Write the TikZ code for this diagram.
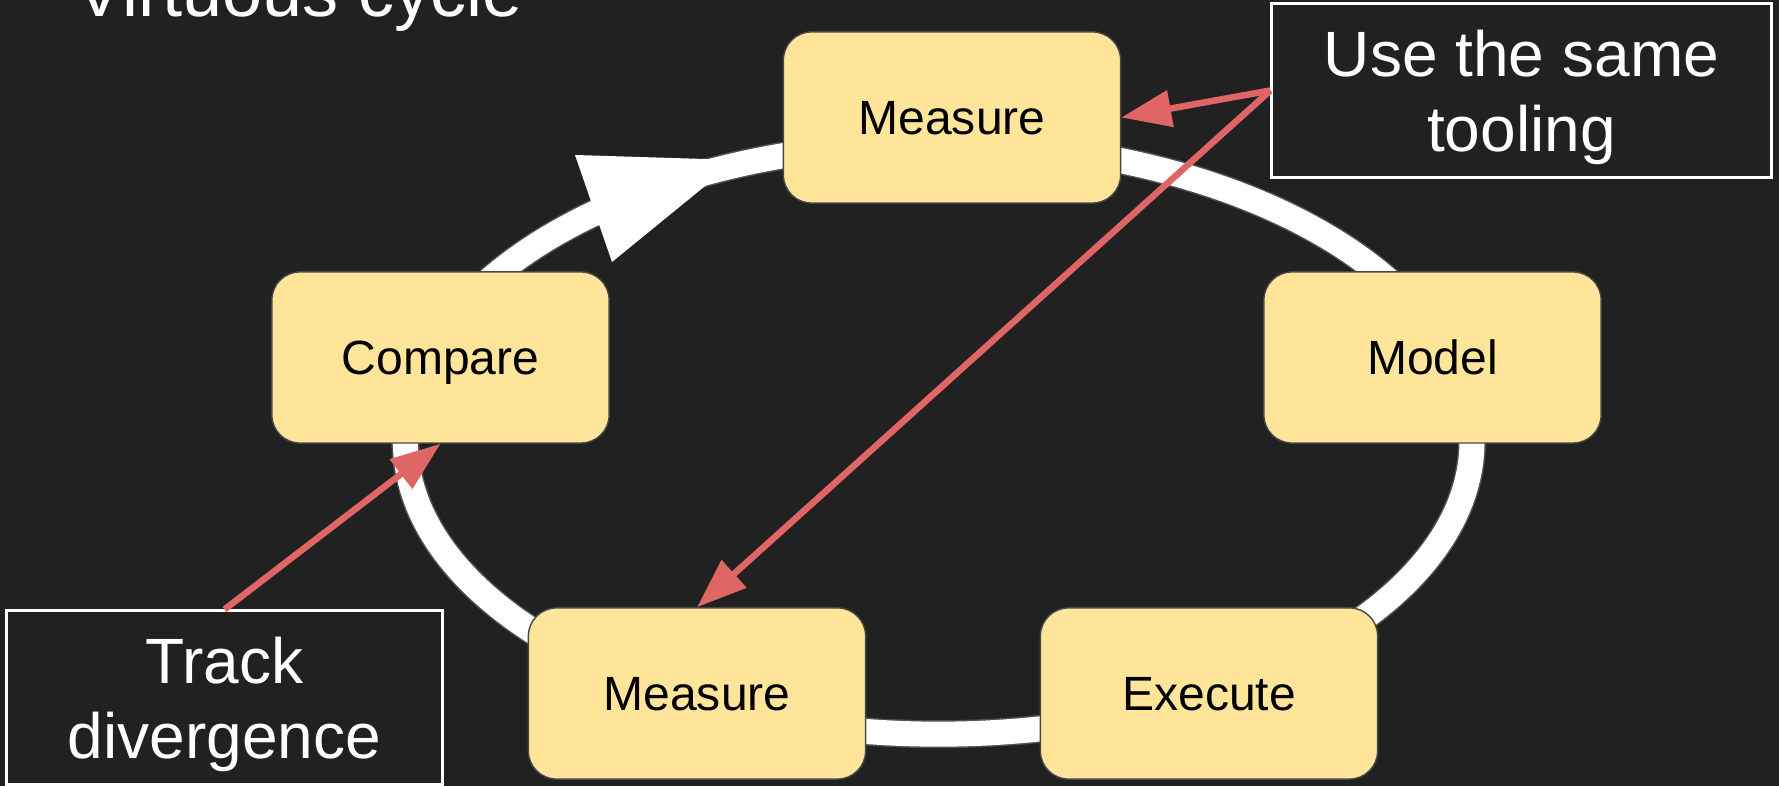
\documentclass[tikz,border=0pt]{standalone}
\usepackage{fontspec}
\setmainfont{Liberation Sans}
\usetikzlibrary{arrows.meta}
\definecolor{bg}{HTML}{212121}
\definecolor{boxfill}{HTML}{FFE599}
\definecolor{boxedge}{HTML}{474747}
\definecolor{redc}{HTML}{E06666}
\definecolor{ringedge}{HTML}{4F4F4F}
\begin{document}
\begin{tikzpicture}[x=0.01cm,y=-0.01cm,
  stage/.style={draw=boxedge,line width=0.4pt,fill=boxfill,rounded corners=0.28cm,
    minimum width=3.37cm,minimum height=1.71cm,inner sep=0pt,text=black,
    font=\fontsize{13.66pt}{16pt}\selectfont,text height=12.36pt,text depth=2.9pt},
  callout/.style={draw=white,line width=0.85pt,fill=bg,text=white,align=center,
    inner sep=0pt,minimum height=1.73cm,font=\fontsize{18.21pt}{21.34pt}\selectfont},
  pointer/.style={draw=redc,line width=1.85pt,-{Triangle[length=14.2pt,width=10.2pt]}},
  ringline/.style={draw=white,line width=0.25cm},
  ringshade/.style={draw=ringedge,line width=0.28cm},
]
\useasboundingbox (0,0) rectangle (1779,786);
\clip (0,0) rectangle (1779,786);
\fill[bg] (0,0) rectangle (1779,786);

% title
\node[anchor=base west,inner sep=0pt,text=white,font=\fontsize{20.49pt}{24pt}\selectfont] (title) at (75,17) {Virtuous cycle};

% cycle ring
\draw[ringshade] (1472,441) arc[start angle=0,end angle=180,x radius=5.33cm,y radius=2.98cm]
  arc[start angle=180,end angle=360,x radius=5.33cm,y radius=2.93cm] -- cycle;
\draw[ringline] (1472,441) arc[start angle=0,end angle=180,x radius=5.33cm,y radius=2.98cm]
  arc[start angle=180,end angle=360,x radius=5.33cm,y radius=2.93cm] -- cycle;
\fill[white] (575,155) -- (612,262) -- (737,160) -- cycle;

% stages
\node[stage] (m1) at (952,117.5) {Measure};
\node[stage] (compare) at (440.5,357.5) {Compare};
\node[stage] (model) at (1432.5,357.5) {Model};
\node[stage] (m2) at (697,693.5) {Measure};
\node[stage] (execute) at (1209,693.5) {Execute};

% callouts
\node[callout,minimum width=4.99cm] (tool) at (1521.5,90.5) {\rule{0pt}{0.95em}Use the same\\tooling};
\node[callout,minimum width=4.35cm] (track) at (224.5,697.5) {\rule{0pt}{0.95em}Track\\divergence};

% pointers
\draw[pointer] (tool.west) -- (m1.east);
\draw[pointer] (tool.west) -- (m2.north);
\draw[pointer] (track.north) -- (compare.south);
\end{tikzpicture}
\end{document}
